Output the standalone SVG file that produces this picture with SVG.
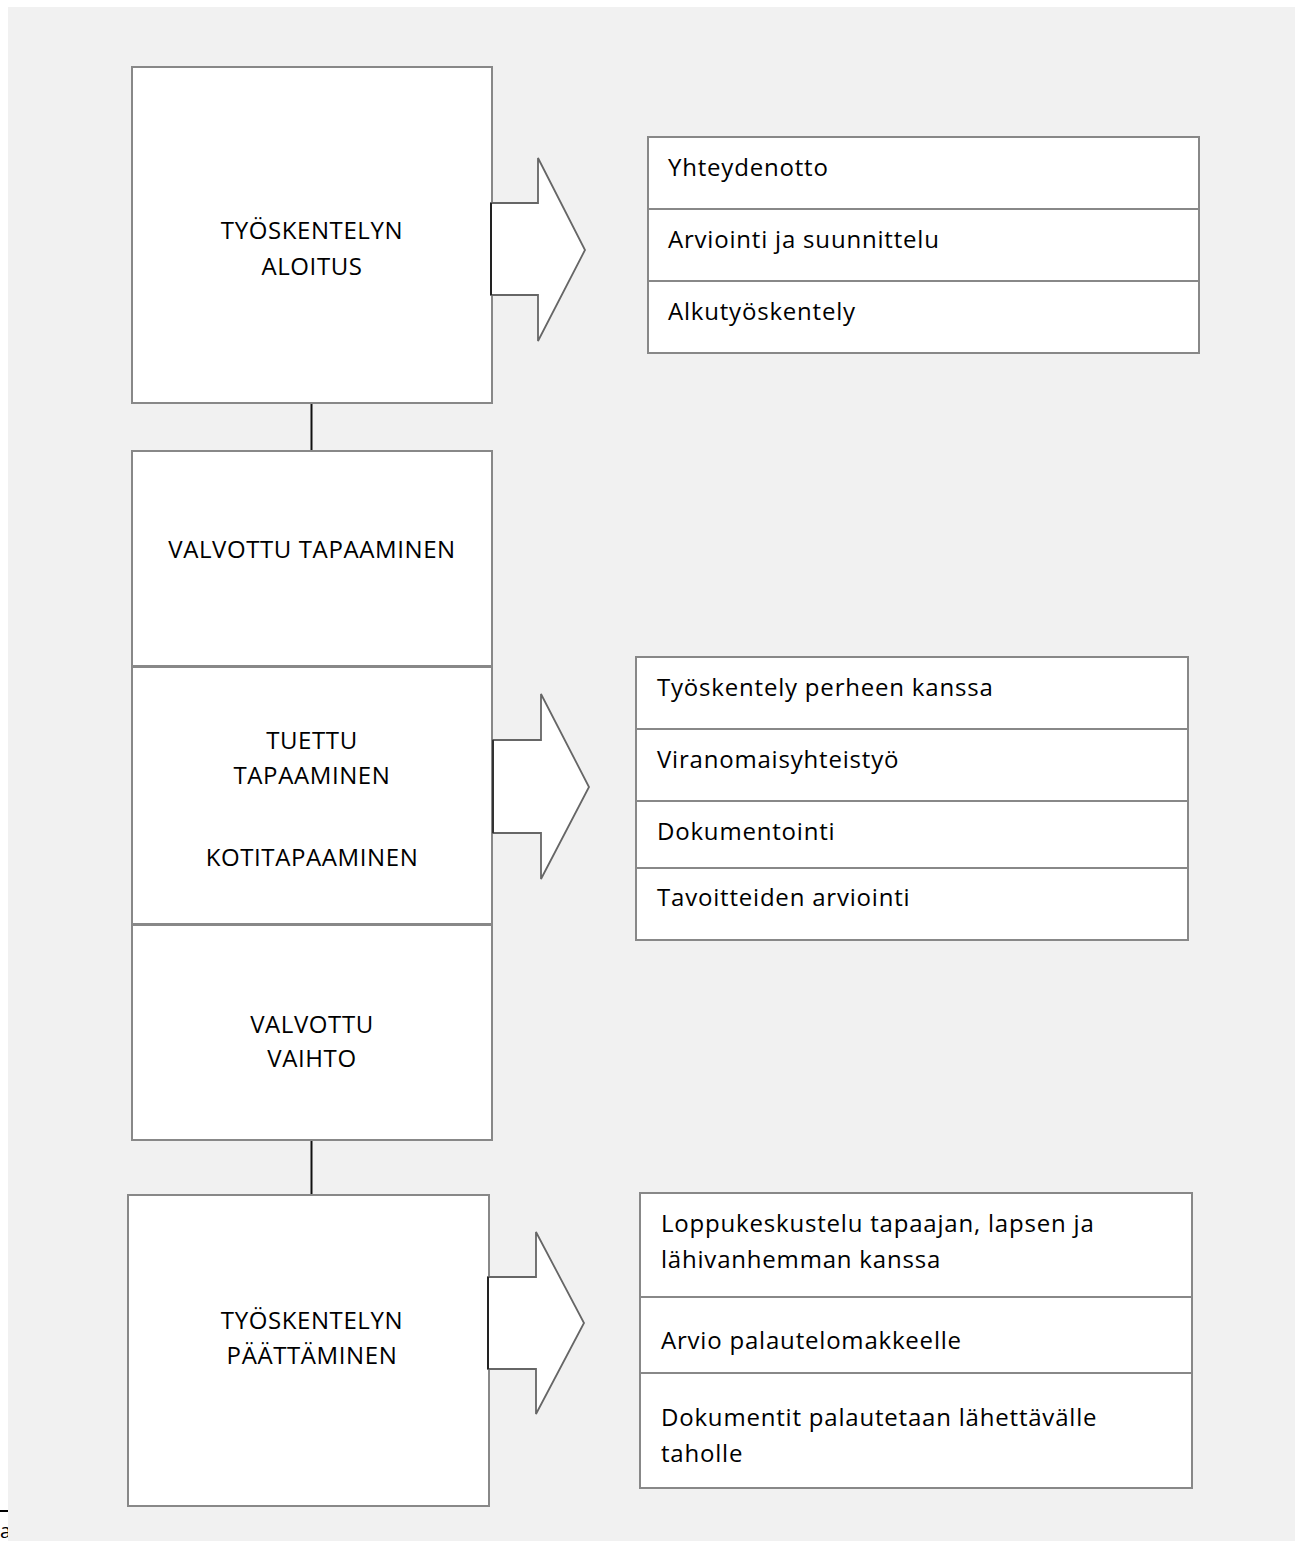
<svg xmlns="http://www.w3.org/2000/svg" width="1295" height="1541" viewBox="0 0 1295 1541">
<style>
.box{fill:#fff;stroke:#888;stroke-width:2}
.cell{fill:#fff;stroke:#888;stroke-width:2}
.arrow{fill:#fff;stroke:#666;stroke-width:1.8;stroke-linejoin:miter}
.conn{stroke:#111;stroke-width:2;fill:none}
.lt{font-family:"Open Sans","Liberation Sans",sans-serif;font-size:24px;letter-spacing:0.6px;fill:#000;text-anchor:middle}
.rt{font-family:"Open Sans","Liberation Sans",sans-serif;font-size:24px;letter-spacing:0.8px;fill:#000}
</style>
<rect x="0" y="0" width="1295" height="1541" fill="#fff"/>
<text x="0" y="1538" font-family="Open Sans, sans-serif" font-size="20" fill="#000">a</text>
<line x1="0" y1="1511" x2="8" y2="1511" stroke="#000" stroke-width="2"/>
<rect x="8" y="7" width="1287" height="1534" fill="#f1f1f1"/>
<g id="connectors">
<line class="conn" x1="311.5" y1="403" x2="311.5" y2="451"/>
<line class="conn" x1="311.5" y1="1141" x2="311.5" y2="1195"/>
</g>
<g id="node-aloitus">
<rect class="box" x="132" y="67" width="360" height="336"/>
<text class="lt" x="312" y="239">TYÖSKENTELYN</text>
<text class="lt" x="312" y="275">ALOITUS</text>
</g>
<g id="node-valvottu-tapaaminen">
<rect class="box" x="132" y="451" width="360" height="215"/>
<text class="lt" x="312" y="558">VALVOTTU TAPAAMINEN</text>
</g>
<g id="node-tuettu">
<rect class="box" x="132" y="667" width="360" height="257"/>
<text class="lt" x="312" y="749">TUETTU</text>
<text class="lt" x="312" y="784">TAPAAMINEN</text>
<text class="lt" x="312" y="866">KOTITAPAAMINEN</text>
</g>
<g id="node-vaihto">
<rect class="box" x="132" y="925" width="360" height="215"/>
<text class="lt" x="312" y="1033">VALVOTTU</text>
<text class="lt" x="312" y="1067">VAIHTO</text>
</g>
<g id="node-paattaminen">
<rect class="box" x="128" y="1195" width="361" height="311"/>
<text class="lt" x="312" y="1329">TYÖSKENTELYN</text>
<text class="lt" x="312" y="1364">PÄÄTTÄMINEN</text>
</g>
<g id="arrow-1">
<polygon class="arrow" points="491,203 538,203 538,158 585,250 538,341 538,295 491,295"/>
<line x1="491" y1="203" x2="491" y2="295" stroke="#222" stroke-width="2"/>
</g>
<g id="arrow-2">
<polygon class="arrow" points="493,740 541,740 541,694 589,787 541,879 541,833 493,833"/>
<line x1="493" y1="740" x2="493" y2="833" stroke="#333" stroke-width="2"/>
</g>
<g id="arrow-3">
<polygon class="arrow" points="488,1277 536,1277 536,1232 584,1323 536,1414 536,1369 488,1369"/>
<line x1="488" y1="1277" x2="488" y2="1369" stroke="#222" stroke-width="2"/>
</g>
<g id="list-aloitus">
<rect class="cell" x="648" y="137" width="551" height="72"/>
<rect class="cell" x="648" y="209" width="551" height="72"/>
<rect class="cell" x="648" y="281" width="551" height="72"/>
<text class="rt" x="668" y="176">Yhteydenotto</text>
<text class="rt" x="668" y="248">Arviointi ja suunnittelu</text>
<text class="rt" x="668" y="320">Alkutyöskentely</text>
</g>
<g id="list-tapaaminen">
<rect class="cell" x="636" y="657" width="552" height="72"/>
<rect class="cell" x="636" y="729" width="552" height="72"/>
<rect class="cell" x="636" y="801" width="552" height="67"/>
<rect class="cell" x="636" y="868" width="552" height="72"/>
<text class="rt" x="657" y="696">Työskentely perheen kanssa</text>
<text class="rt" x="657" y="768">Viranomaisyhteistyö</text>
<text class="rt" x="657" y="840">Dokumentointi</text>
<text class="rt" x="657" y="906">Tavoitteiden arviointi</text>
</g>
<g id="list-paattaminen">
<rect class="cell" x="640" y="1193" width="552" height="104"/>
<rect class="cell" x="640" y="1297" width="552" height="76"/>
<rect class="cell" x="640" y="1373" width="552" height="115"/>
<text class="rt" x="661" y="1232">Loppukeskustelu tapaajan, lapsen ja</text>
<text class="rt" x="661" y="1268">lähivanhemman kanssa</text>
<text class="rt" x="661" y="1349">Arvio palautelomakkeelle</text>
<text class="rt" x="661" y="1426">Dokumentit palautetaan lähettävälle</text>
<text class="rt" x="661" y="1462">taholle</text>
</g>
</svg>
